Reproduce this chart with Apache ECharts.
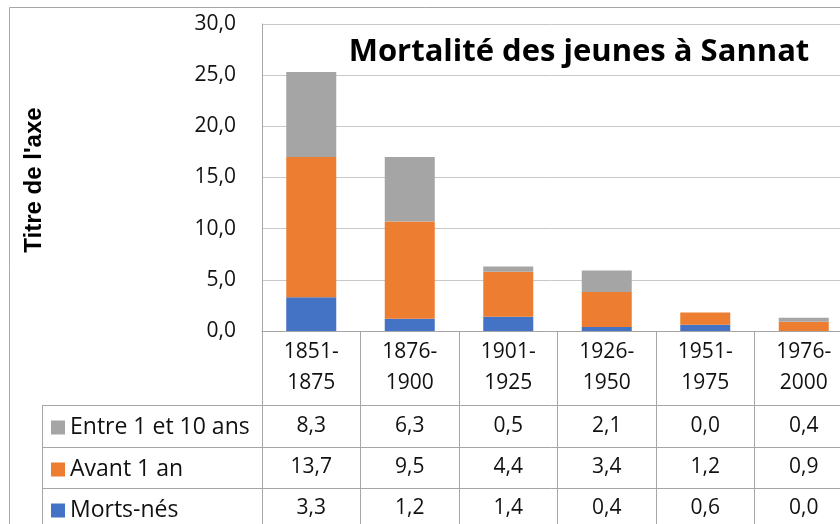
<!DOCTYPE html>
<html>
<head>
<meta charset="utf-8">
<script src="https://cdn.jsdelivr.net/npm/echarts@6/dist/echarts.min.js"></script>
<style>html,body{margin:0;padding:0;background:#fff}#c{width:840px;height:524px}</style>
</head>
<body>
<div id="c"></div>
<script>
var categories = ['1851-1875', '1876-1900', '1901-1925', '1926-1950', '1951-1975', '1976-2000'];
var seriesNames = ['Morts-nés', 'Avant 1 an', 'Entre 1 et 10 ans'];
var mortsNes = [3.3, 1.2, 1.4, 0.4, 0.6, 0.0];
var avant1an = [13.7, 9.5, 4.4, 3.4, 1.2, 0.9];
var entre1et10 = [8.3, 6.3, 0.5, 2.1, 0.0, 0.4];
var yTicks = [0, 5, 10, 15, 20, 25, 30];
var colors = ['#4472C4', '#ED7D31', '#A5A5A5'];
var titleText = 'Mortalité des jeunes à Sannat';
var yAxisTitle = "Titre de l'axe";

function fr(v) { return v.toFixed(1).replace('.', ','); }

var FONT = 'Open Sans';
var FS = 21;
var LINE = '#a6a6a6';
var GRID = '#c8c8c8';

var chart = echarts.init(document.getElementById('c'), null, {renderer: 'canvas'});

function tableAxis(values, offset, rowH) {
  return {
    type: 'category', position: 'bottom', offset: offset,
    data: values.map(fr),
    axisLine: {show: true, lineStyle: {color: LINE, width: 1}},
    axisTick: {show: true, length: rowH, lineStyle: {color: LINE, width: 1}},
    axisLabel: {margin: 0, fontFamily: FONT, fontSize: FS, color: '#111', lineHeight: rowH, interval: 0}
  };
}

function legendRow(name, top) {
  return {
    orient: 'vertical', left: 51, top: top,
    data: [name],
    icon: 'rect', itemWidth: 14, itemHeight: 14,
    textStyle: {fontFamily: FONT, fontSize: 23, color: '#111'},
    selectedMode: false, padding: 0
  };
}

var option = {
  animation: false,
  backgroundColor: '#fff',
  title: {
    text: titleText, left: 574, top: 32, textAlign: 'center',
    textStyle: {fontFamily: FONT, fontWeight: 'bold', fontSize: 31, color: '#000'}
  },
  legend: [
    legendRow(seriesNames[2], 416),
    legendRow(seriesNames[1], 458),
    legendRow(seriesNames[0], 499)
  ],
  grid: {left: 262, top: 24, width: 591, height: 307, containLabel: false, outerBoundsMode: 'none'},
  xAxis: [
    {
      type: 'category', position: 'bottom',
      data: categories,
      axisLine: {show: true, lineStyle: {color: LINE, width: 1}},
      axisTick: {show: true, length: 74, lineStyle: {color: LINE, width: 1}},
      axisLabel: {
        margin: 6, fontFamily: FONT, fontSize: FS, color: '#111', lineHeight: 31, interval: 0,
        formatter: function (v) { return v.replace('-', '-\n'); }
      }
    },
    tableAxis(entre1et10, 74, 42),
    tableAxis(avant1an, 116, 41),
    tableAxis(mortsNes, 157, 41)
  ],
  yAxis: {
    type: 'value', min: yTicks[0], max: yTicks[yTicks.length - 1], interval: 5,
    name: yAxisTitle, nameLocation: 'middle', nameGap: 216, nameRotate: 90,
    nameTextStyle: {fontFamily: 'Liberation Sans', fontWeight: 'bold', fontSize: 24, color: '#000', padding: [0, 5, 0, 0]},
    axisLine: {show: true, lineStyle: {color: LINE, width: 1}},
    axisTick: {show: false},
    axisLabel: {margin: 26, fontFamily: FONT, fontSize: FS, color: '#111', formatter: fr},
    splitLine: {show: true, lineStyle: {color: GRID, width: 1}}
  },
  series: [
    {name: seriesNames[0], type: 'bar', stack: 't', data: mortsNes, barWidth: 50, itemStyle: {color: colors[0]}},
    {name: seriesNames[1], type: 'bar', stack: 't', data: avant1an, barWidth: 50, itemStyle: {color: colors[1]}},
    {name: seriesNames[2], type: 'bar', stack: 't', data: entre1et10, barWidth: 50, itemStyle: {color: colors[2]}}
  ],
  graphic: [
    {type: 'rect', shape: {x: 9.5, y: 7.5, width: 900, height: 600}, style: {fill: null, stroke: LINE, lineWidth: 1}, silent: true, z: 0},
    {type: 'line', shape: {x1: 42, y1: 405.5, x2: 262, y2: 405.5}, style: {stroke: LINE, lineWidth: 1}},
    {type: 'line', shape: {x1: 42, y1: 447.5, x2: 262, y2: 447.5}, style: {stroke: LINE, lineWidth: 1}},
    {type: 'line', shape: {x1: 42, y1: 488.5, x2: 262, y2: 488.5}, style: {stroke: LINE, lineWidth: 1}},
    {type: 'line', shape: {x1: 42.5, y1: 405, x2: 42.5, y2: 530}, style: {stroke: LINE, lineWidth: 1}}
  ]
};
chart.setOption(option);
</script>
</body>
</html>
